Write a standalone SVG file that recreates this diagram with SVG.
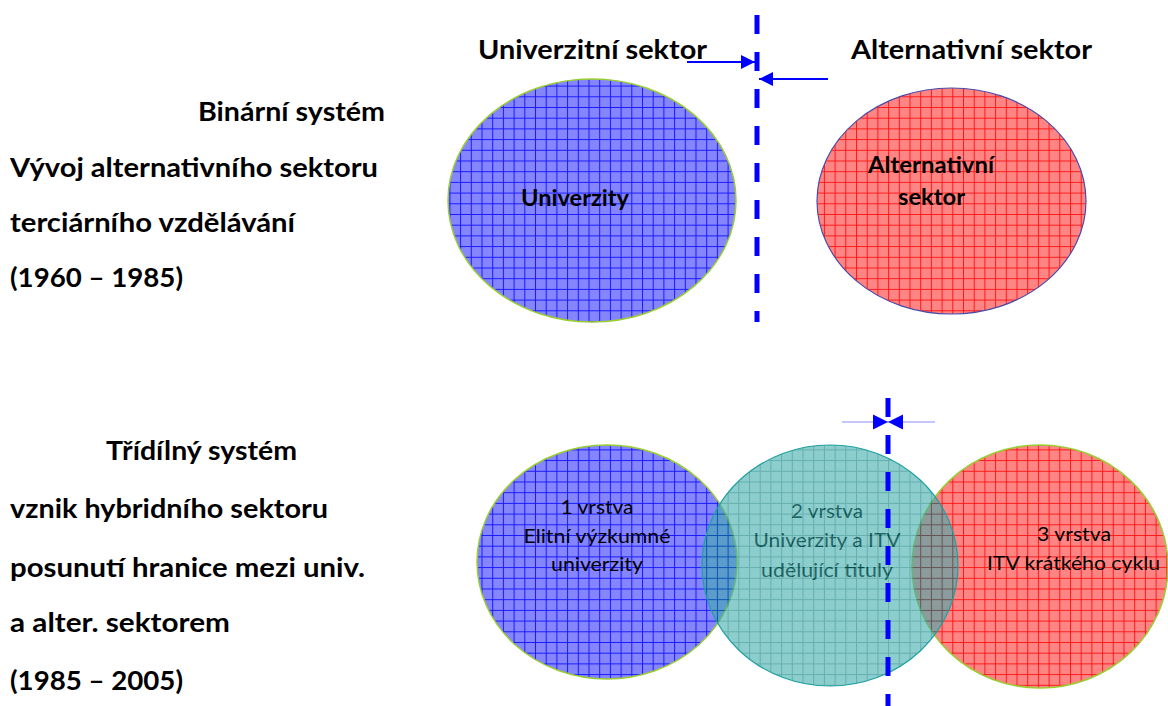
<svg xmlns="http://www.w3.org/2000/svg" width="1168" height="706" viewBox="0 0 1168 706">
<style>
.lbl{font-family:Lato,"Open Sans","Liberation Sans",sans-serif;font-weight:bold;fill:#000}
.side{font-size:26px}
.head{font-size:26.5px}
.inb{font-size:22px}
.inr{font-family:Lato,"Open Sans","Liberation Sans",sans-serif;font-size:19px;fill:#000}
.dash{stroke:#0000ff;stroke-width:5;stroke-dasharray:19 18;fill:none}
.arr{stroke:#0000ff;stroke-width:2;fill:none}
.thin{stroke:#8c8cff;stroke-width:1;fill:none}
</style>
<defs>
<pattern id="pBlue" patternUnits="userSpaceOnUse" width="10.7" height="10.7">
<rect width="10.7" height="10.7" fill="#8585ff"/>
<path d="M0 0.5H10.7M0.5 0V10.7" stroke="#1a1aff" stroke-width="1"/>
</pattern>
<pattern id="pRed" patternUnits="userSpaceOnUse" width="10.7" height="10.7">
<rect width="10.7" height="10.7" fill="#ff8585"/>
<path d="M0 0.5H10.7M0.5 0V10.7" stroke="#ff1a1a" stroke-width="1"/>
</pattern>
<pattern id="pTeal" patternUnits="userSpaceOnUse" width="10.7" height="10.7">
<rect width="10.7" height="10.7" fill="#3fabab"/>
<path d="M0 0.5H10.7M0.5 0V10.7" stroke="#007a7a" stroke-width="1"/>
</pattern>
<marker id="ah" viewBox="0 0 10 10" refX="10" refY="5" markerWidth="7" markerHeight="7.5" orient="auto" markerUnits="strokeWidth">
<path d="M0 0L10 5L0 10Z" fill="#0000ff"/>
</marker>
</defs>

<g id="left-top">
<text class="lbl side" x="385" y="121" text-anchor="end" textLength="187" lengthAdjust="spacingAndGlyphs">Binární systém</text>
<text class="lbl side" x="10" y="177" textLength="368" lengthAdjust="spacingAndGlyphs">Vývoj alternativního sektoru</text>
<text class="lbl side" x="10" y="232" textLength="285" lengthAdjust="spacingAndGlyphs">terciárního vzdělávání</text>
<text class="lbl side" x="10" y="287" textLength="173" lengthAdjust="spacingAndGlyphs">(1960 – 1985)</text>
</g>
<g id="left-bottom">
<text class="lbl side" x="106" y="460" textLength="191" lengthAdjust="spacingAndGlyphs">Třídílný systém</text>
<text class="lbl side" x="10" y="518" textLength="318" lengthAdjust="spacingAndGlyphs">vznik hybridního sektoru</text>
<text class="lbl side" x="10" y="577" textLength="355" lengthAdjust="spacingAndGlyphs">posunutí hranice mezi univ.</text>
<text class="lbl side" x="10" y="632" textLength="220" lengthAdjust="spacingAndGlyphs">a alter. sektorem</text>
<text class="lbl side" x="10" y="690" textLength="173" lengthAdjust="spacingAndGlyphs">(1985 – 2005)</text>
</g>

<g id="headers">
<text class="lbl head" x="478" y="59" textLength="229" lengthAdjust="spacingAndGlyphs">Univerzitní sektor</text>
<text class="lbl head" x="851" y="59" textLength="241" lengthAdjust="spacingAndGlyphs">Alternativní sektor</text>
</g>

<g id="univerzity">
<ellipse cx="592" cy="200.5" rx="144" ry="121.5" fill="url(#pBlue)" stroke="#9acd32" stroke-width="1.5"/>
<text class="lbl inb" x="575" y="206" text-anchor="middle" textLength="108" lengthAdjust="spacingAndGlyphs">Univerzity</text>
</g>
<g id="alternativni">
<ellipse cx="951.5" cy="201" rx="134.5" ry="113" fill="url(#pRed)" stroke="#4b4ba8" stroke-width="1.2"/>
<text class="lbl inb" x="931" y="173" text-anchor="middle" textLength="126" lengthAdjust="spacingAndGlyphs">Alternativní</text>
<text class="lbl inb" x="931.5" y="205" text-anchor="middle" textLength="67" lengthAdjust="spacingAndGlyphs">sektor</text>
</g>

<g id="vrstva1">
<ellipse cx="607" cy="562" rx="130" ry="117" fill="url(#pBlue)" stroke="#9acd32" stroke-width="1.5"/>
<text class="inr" x="597" y="514" text-anchor="middle" textLength="73" lengthAdjust="spacingAndGlyphs">1 vrstva</text>
<text class="inr" x="597" y="543" text-anchor="middle" textLength="147" lengthAdjust="spacingAndGlyphs">Elitní výzkumné</text>
<text class="inr" x="597" y="571" text-anchor="middle" textLength="92" lengthAdjust="spacingAndGlyphs">univerzity</text>
</g>
<g id="vrstva3">
<ellipse cx="1040" cy="566.5" rx="128" ry="121.5" fill="url(#pRed)" stroke="#9acd32" stroke-width="1.5"/>
<text class="inr" x="1074" y="541" text-anchor="middle" textLength="74" lengthAdjust="spacingAndGlyphs">3 vrstva</text>
<text class="inr" x="1073.5" y="570" text-anchor="middle" textLength="173" lengthAdjust="spacingAndGlyphs">ITV krátkého cyklu</text>
</g>
<g id="vrstva2">
<text class="inr" x="827" y="518" text-anchor="middle" textLength="72" lengthAdjust="spacingAndGlyphs">2 vrstva</text>
<text class="inr" x="827" y="547" text-anchor="middle" textLength="147" lengthAdjust="spacingAndGlyphs">Univerzity a ITV</text>
<text class="inr" x="827" y="577" text-anchor="middle" textLength="132" lengthAdjust="spacingAndGlyphs">udělující tituly</text>
<ellipse cx="830" cy="565.5" rx="128" ry="120.5" fill="url(#pTeal)" fill-opacity="0.6" stroke="#1fa0a0" stroke-width="1.2"/>
</g>

<g id="connectors">
<line class="dash" x1="757" y1="15" x2="757" y2="322"/>
<line class="arr" x1="687" y1="62" x2="755" y2="62" marker-end="url(#ah)"/>
<line class="arr" x1="828" y1="79" x2="759" y2="79" marker-end="url(#ah)"/>
<line class="dash" x1="888" y1="398" x2="888" y2="706"/>
<line class="thin" x1="842" y1="422" x2="935" y2="422"/>
<path d="M873 414.5L888 422L873 429.5Z" fill="#0000ff"/>
<path d="M903 414.5L888 422L903 429.5Z" fill="#0000ff"/>
</g>
</svg>
